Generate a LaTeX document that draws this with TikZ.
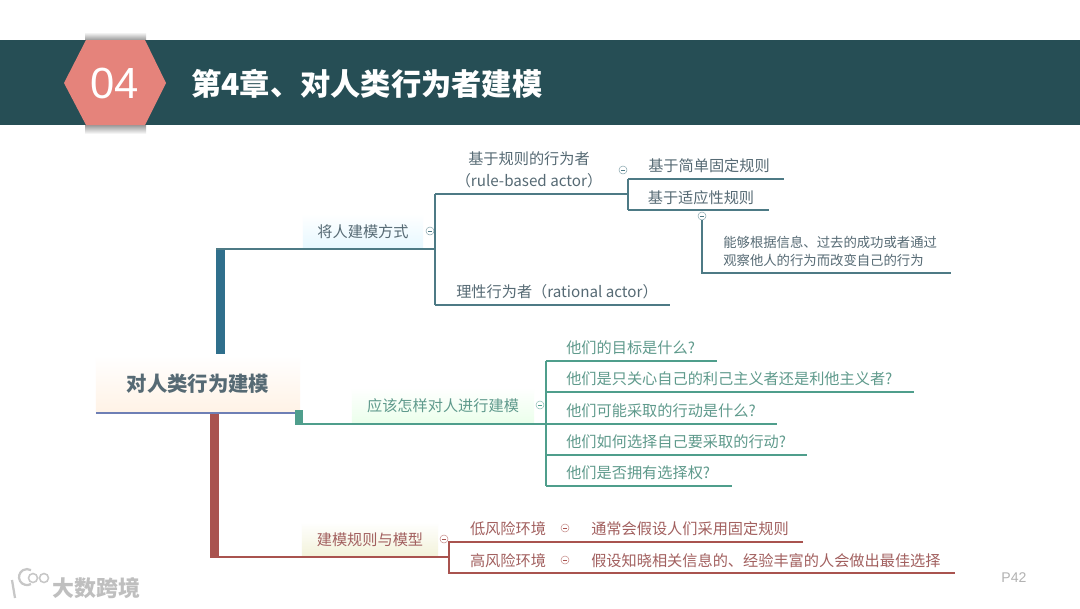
\documentclass[tikz,border=0pt]{standalone}
\usepackage{fontspec}
\setmainfont{Noto Sans CJK SC}
\newfontfamily\numfont{Liberation Sans}
\usetikzlibrary{positioning,calc}
\definecolor{bandcol}{HTML}{264E55}
\definecolor{hexcol}{HTML}{E5837B}
\definecolor{bluecol}{HTML}{2F6F8C}
\definecolor{bluelinecol}{HTML}{4D7A85}
\definecolor{bluetxtcol}{HTML}{566A74}
\definecolor{greencol}{HTML}{4F9E8C}
\definecolor{greentxtcol}{HTML}{5F9A8C}
\definecolor{redcol}{HTML}{A9534F}
\definecolor{redtxtcol}{HTML}{A2605F}
\definecolor{rootcol}{HTML}{6E7FB5}
\begin{document}
\begin{tikzpicture}[x=.025cm,y=-.025cm,
  branch/.style={font=\fontsize{10.8}{15.6}\selectfont,align=center,inner sep=0pt,yshift=-.6pt},
  leaf/.style={branch,anchor=west},
  topicbox/.style={shade,shading angle=0,inner sep=0pt,minimum height=.9cm,yshift=-.5pt,font=\fontsize{10.8}{13}\selectfont},
  foldmark/.style={circle,draw=#1!70,line width=.35pt,minimum size=.2cm,inner sep=0pt,fill=white,
    path picture={\draw[#1,line width=.35pt] ([xshift=-.05cm]path picture bounding box.center) -- ([xshift=.05cm]path picture bounding box.center);}},
  blueline/.style={bluelinecol,line width=.9pt},
  greenline/.style={greencol,line width=.9pt},
  redline/.style={redcol,line width=.9pt}]
\useasboundingbox (0,0) rectangle (1080,608);
\fill[white] (0,0) rectangle (1080,608);
% title band
\shade[top color=white,bottom color=black!40] (85,32) rectangle (146,40);
\shade[top color=black!40,bottom color=white] (85,125) rectangle (146,134);
\fill[bandcol] (0,40) rectangle (1080,125);
\fill[hexcol] (64,83) -- (86,40) -- (145,40) -- (166,83) -- (145,125) -- (86,125) -- cycle;
\node[white,font=\numfont\fontsize{31}{31}\selectfont] (chapno) at (115,83) {04};
\node[white,anchor=west,inner sep=0pt,font=\bfseries\fontsize{21.5}{26}\selectfont] (chaptitle) at (191,84) {第4章、对人类行为者建模};
% root
\node[shade,top color=white,bottom color=orange!10,inner sep=0pt,minimum width=5.1cm,minimum height=1.45cm,
  text=bluetxtcol,font=\bfseries\fontsize{14.5}{18}\selectfont] (root) at (198,384) {对人类行为建模};
\coordinate (rootL) at (96,413);
\coordinate (rootR) at (300,413);
\draw[rootcol,line width=1.2pt] (rootL) -- (rootR);
% trunks
\fill[bluecol] (216,249) rectangle (225,354);
\fill[greencol] (295,410) rectangle (303,424);
\fill[redcol] (210,414) rectangle (219,557);
% first topic
\node[topicbox,top color=white,bottom color=blue!30!cyan!10,minimum width=3cm,text=bluetxtcol] (modeway) at (363,231) {将人建模方式};
\node[foldmark=bluelinecol] (modefold) at (430,231) {};
\coordinate (modeL) at (216,249);
\coordinate (modeJ) at (435,249);
\coordinate (modeT) at (435,194);
\coordinate (modeB) at (435,305);
\draw[blueline] (modeL) -- (modeJ);
\draw[blueline] (modeT) -- (modeB);
\node[branch,text=bluetxtcol] (ruleactor) at (529,169) {基于规则的行为者\\（rule-based actor）};
\node[branch,text=bluetxtcol] (ratactor) at (557,291) {理性行为者（rational actor）};
\coordinate (ruleE) at (628,194);
\coordinate (ratE) at (670,305);
\draw[blueline] (modeT) -- (ruleE);
\draw[blueline] (modeB) -- (ratE);
\node[foldmark=bluelinecol] (rulefold) at (623,170) {};
\node[branch,text=bluetxtcol] (simplerule) at (709,165) {基于简单固定规则};
\node[branch,text=bluetxtcol] (adaptrule) at (701,197) {基于适应性规则};
\coordinate (simpleL) at (628,179);
\coordinate (simpleE) at (784,179);
\coordinate (adaptL) at (628,210);
\coordinate (adaptE) at (769,210);
\draw[blueline] (simpleL) -- (simpleE);
\draw[blueline] (adaptL) -- (adaptE);
\draw[blueline] (simpleL) -- (adaptL);
\node[foldmark=bluelinecol] (adaptfold) at (702,216) {};
\node[leaf,text=bluetxtcol,align=left,font=\fontsize{9.5}{12.8}\selectfont] (adaptnote) at (723,251) {能够根据信息、过去的成功或者通过\\观察他人的行为而改变自己的行为};
\coordinate (noteL) at (702,273);
\coordinate (noteE) at (951,273);
\draw[blueline] (adaptfold) -- (noteL) -- (noteE);
% second topic
\node[topicbox,top color=white,bottom color=green!8,minimum width=4.55cm,text=greentxtcol] (howto) at (443,405) {应该怎样对人进行建模};
\node[foldmark=greencol] (howfold) at (540,405) {};
\coordinate (howL) at (295,424);
\coordinate (howT) at (546,361);
\coordinate (howB) at (546,486);
\draw[greenline] (howT) -- (howB);
\draw[greenline] (howL) -- (546,424);
\foreach \name/\ty/\ly/\lx/\txt in {q1/347/361/717/他们的目标是什么?,
  q2/378/392/914/他们是只关心自己的利己主义者还是利他主义者?,
  q3/410/424/777/他们可能采取的行动是什么?,
  q4/441/455/807/他们如何选择自己要采取的行动?,
  q5/472/486/732/他们是否拥有选择权?}{
  \node[leaf,text=greentxtcol] (\name) at (566,\ty) {\txt};
  \coordinate (\name L) at (546,\ly);
  \coordinate (\name E) at (\lx,\ly);
  \draw[greenline] (\name L) -- (\name E);
}
% third topic
\node[topicbox,top color=white,bottom color=olive!10,minimum width=3.4cm,text=redtxtcol] (rulemodel) at (370,539) {建模规则与模型};
\node[foldmark=redcol] (modelfold) at (444,539) {};
\coordinate (modelL) at (210,557);
\coordinate (modelJ) at (449,557);
\coordinate (lowL) at (449,542);
\coordinate (lowE) at (803,542);
\coordinate (highL) at (449,573);
\coordinate (highE) at (955,573);
\draw[redline] (modelL) -- (modelJ);
\draw[redline] (lowE) -- (lowL) -- (highL) -- (highE);
\node[branch,text=redtxtcol] (lowrisk) at (508,528) {低风险环境};
\node[foldmark=redcol] (lowfold) at (565,528) {};
\node[leaf,text=redtxtcol] (lownote) at (591,528) {通常会假设人们采用固定规则};
\node[branch,text=redtxtcol] (highrisk) at (508,560) {高风险环境};
\node[foldmark=redcol] (highfold) at (565,560) {};
\node[leaf,text=redtxtcol] (highnote) at (591,560) {假设知晓相关信息的、经验丰富的人会做出最佳选择};
% page number and watermark
\node[black!30,font=\numfont\fontsize{10}{12}\selectfont] (pageno) at (1014,578) {P42};
\draw[black!22,line width=1.6pt] (12,580) -- (15,598);
\draw[black!22,line width=1.6pt] (31,584) arc (60:300:8);
\draw[black!22,line width=1.1pt] (33,578) circle (4.5) (44,578) circle (4.5);
\node[black!25,anchor=west,inner sep=0pt,font=\bfseries\fontsize{15.6}{18}\selectfont] (mark) at (52,588) {大数跨境};
\end{tikzpicture}
\end{document}
